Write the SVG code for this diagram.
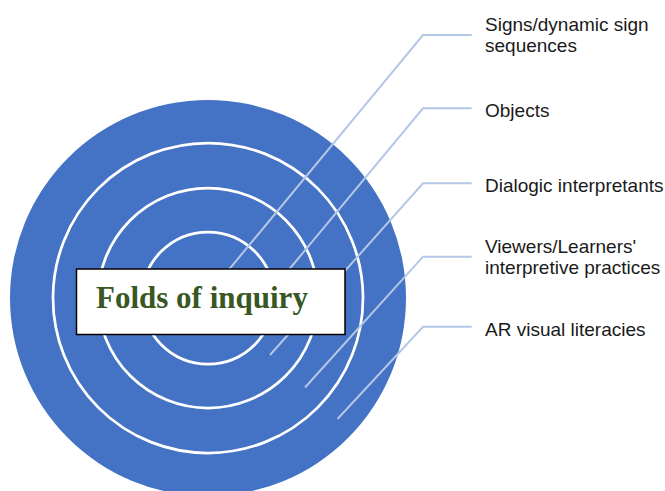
<svg xmlns="http://www.w3.org/2000/svg" width="665" height="491" viewBox="0 0 665 491">
  <style>
    .disc { fill: #4472C4; }
    .ring { fill: none; stroke: #FFFFFF; stroke-width: 2.75; }
    .leader { fill: none; stroke: #B4C7E7; stroke-width: 2; }
    .label { font-family: "Liberation Sans", Arial, sans-serif; font-size: 19px; fill: #1A1A1A; }
    .title-box { fill: #FFFFFF; stroke: #000000; stroke-width: 1.5; }
    .title { font-family: "Liberation Serif", "Times New Roman", serif; font-size: 31px; font-weight: bold; fill: #385723; }
  </style>

  <!-- concentric folds -->
  <g id="folds">
    <circle class="disc" cx="208" cy="298" r="198"/>
    <circle class="ring" cx="208" cy="298" r="155"/>
    <circle class="ring" cx="208" cy="298" r="110"/>
    <circle class="ring" cx="208" cy="298" r="66"/>
  </g>

  <!-- leader lines from each fold to its label -->
  <g id="connectors">
    <polyline class="leader" points="471.7,35 423,35 222,278"/>
    <polyline class="leader" points="471.7,108.3 423,108.3 282,278"/>
    <polyline class="leader" points="471.7,183.3 423,183.3 270,355"/>
    <polyline class="leader" points="471.7,256.7 423,256.7 305,387.5"/>
    <polyline class="leader" points="471.7,326.7 423,326.7 337.5,419"/>
  </g>

  <!-- central title -->
  <g id="title">
    <rect class="title-box" x="76.5" y="269" width="268.5" height="65.5"/>
    <text class="title" x="96" y="308">Folds of inquiry</text>
  </g>

  <!-- labels -->
  <g id="label-signs">
    <text class="label" x="485" y="30.7">Signs/dynamic sign</text>
    <text class="label" x="485" y="51.7">sequences</text>
  </g>
  <g id="label-objects">
    <text class="label" x="485" y="116.7">Objects</text>
  </g>
  <g id="label-dialogic">
    <text class="label" x="485" y="191.7">Dialogic interpretants</text>
  </g>
  <g id="label-viewers">
    <text class="label" x="485" y="252.7">Viewers/Learners'</text>
    <text class="label" x="485" y="273.5">interpretive practices</text>
  </g>
  <g id="label-ar">
    <text class="label" x="485" y="336">AR visual literacies</text>
  </g>
</svg>
